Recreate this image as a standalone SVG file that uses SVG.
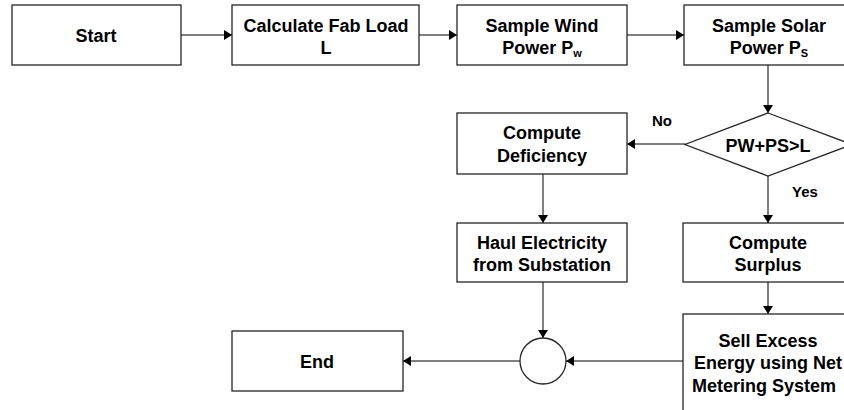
<svg xmlns="http://www.w3.org/2000/svg" width="844" height="410" viewBox="0 0 844 410">
<defs>
<style>
.box{fill:#fff;stroke:#262626;stroke-width:1.3}
.t{font-family:"Liberation Sans",Arial,sans-serif;font-weight:bold;font-size:18px;fill:#000;text-anchor:middle}
.lbl{font-family:"Liberation Sans",Arial,sans-serif;font-weight:bold;font-size:15px;fill:#000}
.c{fill:none;stroke:#555;stroke-width:1.5}
</style>
<marker id="ah" viewBox="0 0 8 10" refX="8" refY="5" markerWidth="8" markerHeight="10" markerUnits="userSpaceOnUse" orient="auto">
<path d="M0,0 L8,5 L0,10 Z" fill="#000"/>
</marker>
</defs>
<rect width="844" height="410" fill="#fff"/>
<g id="connectors">
<line class="c" x1="181" y1="35" x2="232" y2="35" marker-end="url(#ah)"/>
<line class="c" x1="419" y1="35" x2="457" y2="35" marker-end="url(#ah)"/>
<line class="c" x1="627" y1="35" x2="684" y2="35" marker-end="url(#ah)"/>
<line class="c" x1="768" y1="65" x2="768" y2="113" marker-end="url(#ah)"/>
<line class="c" x1="685" y1="144" x2="627" y2="144" marker-end="url(#ah)"/>
<line class="c" x1="768" y1="176" x2="768" y2="223" marker-end="url(#ah)"/>
<line class="c" x1="543" y1="174" x2="543" y2="223" marker-end="url(#ah)"/>
<line class="c" x1="768" y1="282" x2="768" y2="314" marker-end="url(#ah)"/>
<line class="c" x1="543" y1="282" x2="543" y2="338" marker-end="url(#ah)"/>
<line class="c" x1="683" y1="361" x2="566" y2="361" marker-end="url(#ah)"/>
<line class="c" x1="520" y1="361" x2="403" y2="361" marker-end="url(#ah)"/>
<text class="lbl" x="652" y="126">No</text>
<text class="lbl" x="792" y="197">Yes</text>
</g>
<g id="start">
<rect class="box" x="12" y="5" width="169" height="60"/>
<text class="t" x="96" y="42">Start</text>
</g>
<g id="calc">
<rect class="box" x="232" y="5" width="187" height="60"/>
<text class="t" x="326" y="32">Calculate Fab Load</text>
<text class="t" x="326" y="54">L</text>
</g>
<g id="wind">
<rect class="box" x="457" y="5" width="170" height="60"/>
<text class="t" x="542" y="32">Sample Wind</text>
<text class="t" x="542" y="54">Power P<tspan font-size="11" dy="3">w</tspan></text>
</g>
<g id="solar">
<rect class="box" x="684" y="5" width="170" height="60"/>
<text class="t" x="769" y="32">Sample Solar</text>
<text class="t" x="769" y="54">Power P<tspan font-size="11" dy="3">S</tspan></text>
</g>
<g id="decision">
<polygon class="box" points="768,113 852,144.5 768,176 685,144.5"/>
<text class="t" x="768" y="152">PW+PS&gt;L</text>
</g>
<g id="deficiency">
<rect class="box" x="457" y="113" width="170" height="61"/>
<text class="t" x="542" y="139">Compute</text>
<text class="t" x="542" y="162">Deficiency</text>
</g>
<g id="haul">
<rect class="box" x="457" y="223" width="170" height="59"/>
<text class="t" x="542" y="249">Haul Electricity</text>
<text class="t" x="542" y="271">from Substation</text>
</g>
<g id="surplus">
<rect class="box" x="683" y="223" width="170" height="59"/>
<text class="t" x="768" y="249">Compute</text>
<text class="t" x="768" y="271">Surplus</text>
</g>
<g id="sell">
<rect class="box" x="683" y="314" width="170" height="110"/>
<text class="t" x="768" y="347">Sell Excess</text>
<text class="t" x="768" y="369">Energy using Net</text>
<text class="t" x="764" y="392">Metering System</text>
</g>
<g id="merge">
<circle class="box" cx="543" cy="361" r="23"/>
</g>
<g id="end">
<rect class="box" x="232" y="331" width="171" height="60"/>
<text class="t" x="317" y="368">End</text>
</g>
</svg>
